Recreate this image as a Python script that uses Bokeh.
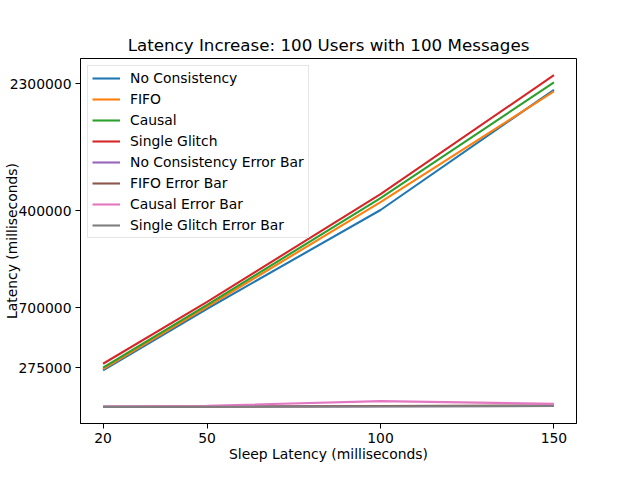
from bokeh.plotting import figure
from bokeh.models import Range1d, FixedTicker
from bokeh.embed import file_html
from bokeh.resources import INLINE

# ---- data (y in the chart's own latency scale) ----
sleep = [20, 50, 100, 150]
no_consistency = [53.9, 116.2, 216.2, 337.9]
fifo = [55.2, 118.2, 224.2, 336.2]
causal = [56.5, 120.2, 228.2, 345.5]
single_glitch = [60.5, 123.2, 232.2, 352.8]
no_consistency_err = [16.8, 17.2, 17.4, 17.9]
fifo_err = [16.8, 17.0, 17.7, 18.2]
causal_err = [17.2, 17.9, 22.7, 19.9]
single_glitch_err = [16.8, 16.9, 17.2, 17.7]

x_ticks = [20, 50, 100, 150]
y_tick_pos = [344.2, 215.2, 117.2, 56.2]
y_tick_labels = ["2300000", "400000", "700000", "275000"]

series = [
    ("No Consistency", no_consistency, "#1f77b4"),
    ("FIFO", fifo, "#ff7f0e"),
    ("Causal", causal, "#2ca02c"),
    ("Single Glitch", single_glitch, "#d62728"),
    ("No Consistency Error Bar", no_consistency_err, "#9467bd"),
    ("FIFO Error Bar", fifo_err, "#8c564b"),
    ("Causal Error Bar", causal_err, "#e377c2"),
    ("Single Glitch Error Bar", single_glitch_err, "#7f7f7f"),
]

FONT = "DejaVu Sans"
FS = "13.9px"

p = figure(width=624, height=464, output_backend="svg", toolbar_location=None,
           x_range=Range1d(13.5, 156.5), y_range=Range1d(0, 369.6),
           min_border_left=80, min_border_right=48, min_border_top=58,
           min_border_bottom=36,
           title="Latency Increase: 100 Users with 100 Messages")

for name, ys, col in series:
    p.line(sleep, ys, line_color=col, line_width=2.1, legend_label=name)

p.title.align = "center"
p.title.text_font = FONT
p.title.text_font_size = "16.7px"
p.title.text_font_style = "normal"
p.title.text_color = "black"
p.title.standoff = 8

p.grid.visible = False
p.outline_line_color = "black"
p.outline_line_width = 1
p.outline_line_alpha = 1

p.xaxis.ticker = FixedTicker(ticks=x_ticks)
p.yaxis.ticker = FixedTicker(ticks=y_tick_pos)
p.yaxis.major_label_overrides = {t: l for t, l in zip(y_tick_pos, y_tick_labels)}

for ax in (p.xaxis[0], p.yaxis[0]):
    ax.axis_line_color = "black"
    ax.major_tick_line_color = "black"
    ax.major_tick_out = 5
    ax.major_tick_in = 0
    ax.minor_tick_line_color = None
    ax.major_label_text_font = FONT
    ax.major_label_text_font_size = FS
    ax.major_label_text_color = "black"
    ax.major_label_standoff = 4
    ax.axis_label_text_font = FONT
    ax.axis_label_text_font_size = FS
    ax.axis_label_text_font_style = "normal"
    ax.axis_label_text_color = "black"

p.xaxis.axis_label = "Sleep Latency (milliseconds)"
p.xaxis.axis_label_standoff = 0
p.yaxis.axis_label = "Latency (milliseconds)"
p.yaxis.axis_label_standoff = -13

lg = p.legend[0]
lg.location = "top_left"
lg.margin = 7
lg.padding = 4
lg.spacing = 5
lg.glyph_height = 16
lg.label_height = 16
lg.glyph_width = 28
lg.label_standoff = 10
lg.label_text_font = FONT
lg.label_text_font_size = FS
lg.label_text_color = "black"
lg.border_line_color = "#cccccc"
lg.background_fill_alpha = 0.8

open("out.html", "w").write(file_html(p, INLINE))
